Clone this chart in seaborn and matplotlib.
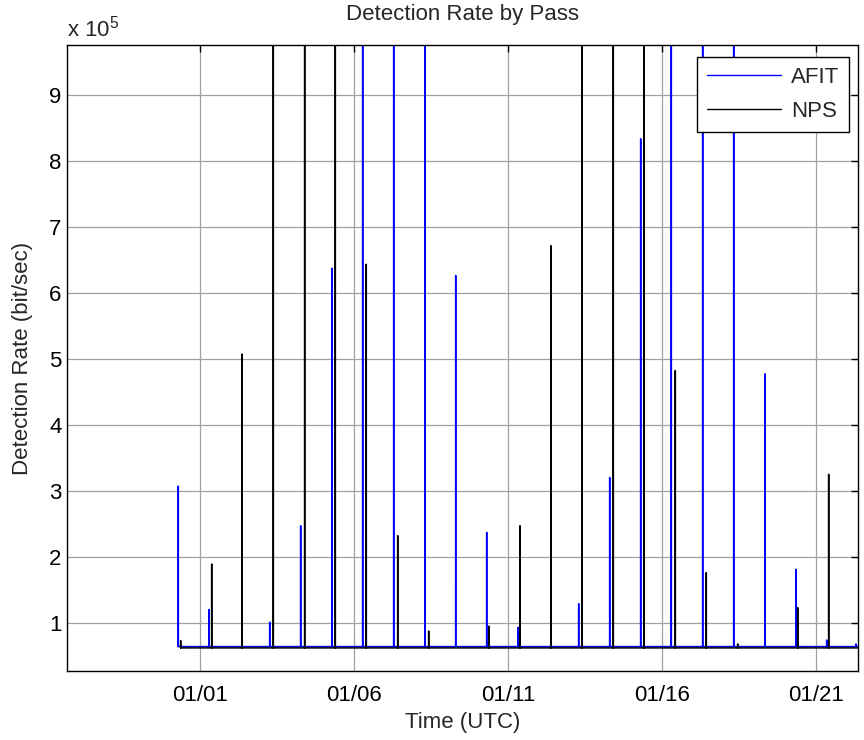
import matplotlib
matplotlib.use("Agg")
import matplotlib.pyplot as plt
import matplotlib.dates as mdates
from matplotlib.ticker import FixedLocator, FuncFormatter
import numpy as np
import pandas as pd
import seaborn as sns

# Pass peak times (UTC) and peak detection rates (bit/sec)
afit_times = [
    "2013-12-31 07:05", "2014-01-01 07:00", "2014-01-03 06:19", "2014-01-04 06:27",
    "2014-01-05 06:52", "2014-01-06 06:46", "2014-01-07 06:56", "2014-01-08 07:19",
    "2014-01-09 07:15", "2014-01-10 07:24", "2014-01-11 07:48", "2014-01-13 07:05",
    "2014-01-14 07:15", "2014-01-15 07:24", "2014-01-16 07:15", "2014-01-17 07:42",
    "2014-01-18 07:52", "2014-01-19 08:15", "2014-01-20 08:25", "2014-01-21 08:20",
    "2014-01-22 07:10",
]
afit_rates = [
    3.07e5, 1.20e5, 1.01e5, 2.47e5,
    6.37e5, 1.45e6, 1.62e6, 1.38e6,
    6.26e5, 2.37e5, 0.93e5, 1.29e5,
    3.20e5, 8.33e5, 1.51e6, 1.27e6,
    1.33e6, 4.77e5, 1.81e5, 0.74e5,
    0.68e5,
]

nps_times = [
    "2013-12-31 08:57", "2014-01-01 09:07", "2014-01-02 08:44", "2014-01-03 09:07",
    "2014-01-04 09:34", "2014-01-05 09:26", "2014-01-06 09:34", "2014-01-07 10:03",
    "2014-01-08 10:12", "2014-01-10 09:11", "2014-01-11 09:21", "2014-01-12 09:30",
    "2014-01-13 09:40", "2014-01-14 10:03", "2014-01-15 09:59", "2014-01-16 10:22",
    "2014-01-17 10:31", "2014-01-18 10:59", "2014-01-20 09:45", "2014-01-21 09:53",
]
nps_rates = [
    0.73e5, 1.89e5, 5.07e5, 1.22e6,
    1.48e6, 1.31e6, 6.43e5, 2.32e5,
    0.875e5, 0.95e5, 2.47e5, 6.71e5,
    1.36e6, 1.55e6, 1.18e6, 4.82e5,
    1.76e5, 0.68e5, 1.23e5, 3.25e5,
]

afit_floor = 6.4e4
nps_floor = 6.2e4
series_end = "2014-01-22 08:30"

y_ticks = [1e5, 2e5, 3e5, 4e5, 5e5, 6e5, 7e5, 8e5, 9e5]
x_tick_days = [1, 6, 11, 16, 21]


def pass_trace(name, times, rates, floor):
    """Each pass rises from the floor rate to its peak and falls back."""
    half = pd.Timedelta(minutes=4)
    rows = []
    for t, r in zip(pd.to_datetime(times), rates):
        rows += [(t - half, floor), (t, r), (t + half, floor)]
    rows.append((pd.Timestamp(series_end), floor))
    df = pd.DataFrame(rows, columns=["time", "rate"])
    df["source"] = name
    return df


data = pd.concat([
    pass_trace("AFIT", afit_times, afit_rates, afit_floor),
    pass_trace("NPS", nps_times, nps_rates, nps_floor),
], ignore_index=True)

sns.set_style("white")
plt.rcParams["font.family"] = ["Liberation Sans", "DejaVu Sans"]
plt.rcParams["mathtext.default"] = "regular"

fs = 16
fig = plt.figure(figsize=(8.64, 7.40), dpi=100)
ax = fig.add_axes([67 / 864, 1 - 671 / 740, 791 / 864, 626 / 740])

sns.lineplot(
    data=data, x="time", y="rate", hue="source",
    palette={"AFIT": "#0000ff", "NPS": "#000000"},
    estimator=None, sort=False, linewidth=1.1, ax=ax,
)

ax.set_xlim(pd.Timestamp("2013-12-27 16:22"), pd.Timestamp("2014-01-22 08:44"))
ax.set_ylim(2.7e4, 9.75e5)

ax.xaxis.set_major_locator(mdates.DayLocator(bymonthday=x_tick_days))
ax.xaxis.set_major_formatter(mdates.DateFormatter("%m/%d"))
ax.yaxis.set_major_locator(FixedLocator(y_ticks))
ax.yaxis.set_major_formatter(FuncFormatter(lambda v, p: f"{v / 1e5:g}"))

ax.grid(True, color="#a0a0a0", linewidth=0.9)
ax.set_axisbelow(True)
for s in ax.spines.values():
    s.set_color("black")
    s.set_linewidth(1.0)
ax.tick_params(axis="both", which="major", direction="in", length=5, width=1,
               top=True, right=True, labelsize=fs, colors="black")
ax.tick_params(axis="x", pad=10)
ax.tick_params(axis="y", pad=4)

ax.set_title("Detection Rate by Pass", fontsize=fs, pad=18)
ax.set_xlabel("Time (UTC)", fontsize=fs)
ax.set_ylabel("Detection Rate (bit/sec)", fontsize=fs)
ax.xaxis.set_label_coords(0.5, -0.066)
ax.yaxis.set_label_coords(-0.043, 0.5)

ax.text(0.0, 1.006, r"x 10$^{5}$", transform=ax.transAxes, fontsize=fs,
        ha="left", va="bottom")

leg = ax.legend(
    loc="upper right", bbox_to_anchor=(0.9886, 0.981), borderaxespad=0,
    fontsize=fs, frameon=True, fancybox=False, framealpha=1,
    edgecolor="black", handlelength=3.3, handletextpad=0.45,
    borderpad=0.45, labelspacing=0.6, title=None,
)
leg.get_frame().set_linewidth(1.0)
for line in leg.get_lines():
    line.set_linewidth(1.0)

fig.savefig("out.png", dpi=100)
